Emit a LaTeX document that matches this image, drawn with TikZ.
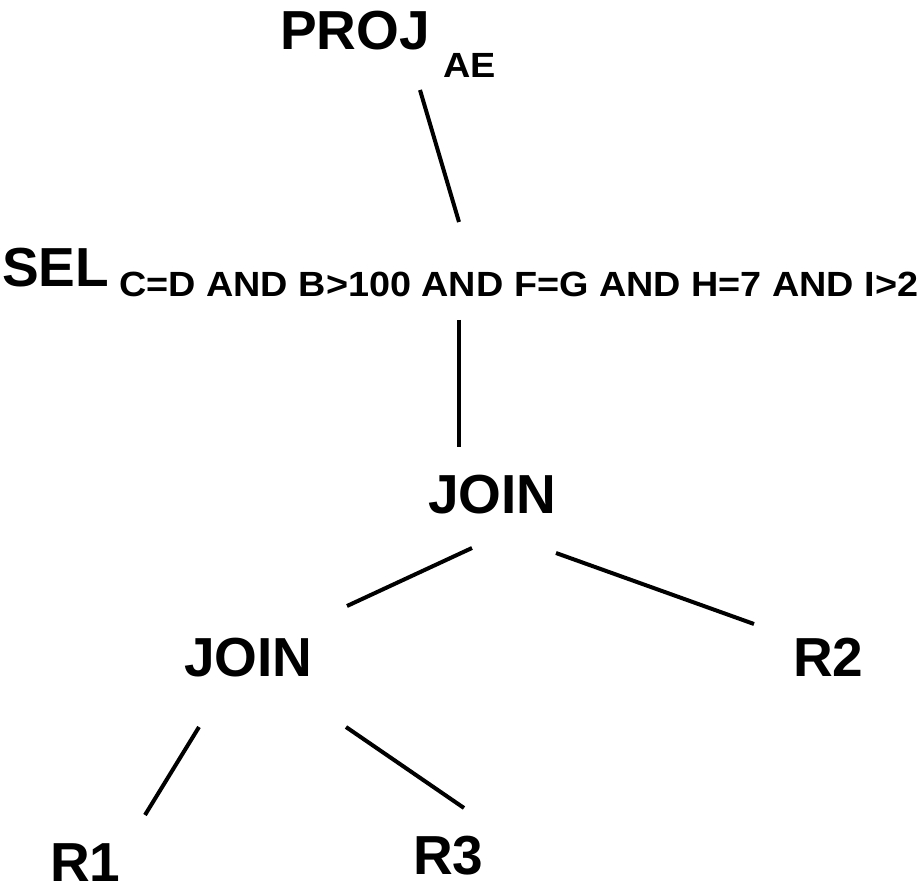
\documentclass[tikz,border=0pt]{standalone}
\usepackage{fontspec}
\setmainfont{Liberation Sans}
\newcommand{\widesub}[1]{\scalebox{1.08}[1]{#1}}
\tikzset{
  big/.style={inner sep=0pt, anchor=base west, font=\bfseries\fontsize{55}{60}\selectfont},
  sub/.style={inner sep=0pt, anchor=base west, font=\bfseries\fontsize{35}{40}\selectfont},
  edge/.style={line width=4pt}
}
\begin{document}
\begin{tikzpicture}[x=1pt,y=-1pt]
\useasboundingbox (0,0) rectangle (922,885);
\node[big] (proj) at (280,50) {PROJ};
\node[sub] (ae) at (443,78) {\widesub{AE}};
\node[big] (sel) at (2,287) {SEL};
\node[sub] (cond) at (119,297) {\widesub{C=D AND B>100 AND F=G AND H=7 AND I>2}};
\node[big] (join1) at (428,514) {JOIN};
\node[big] (join2) at (184,676) {JOIN};
\node[big] (r2) at (793,676) {R2};
\node[big] (r1) at (50,881) {R1};
\node[big] (r3) at (413,874) {R3};
\coordinate (p1) at (420,90);
\coordinate (s1) at (459,222);
\coordinate (s2) at (459,320);
\coordinate (j1) at (459,447);
\coordinate (j1a) at (472,548);
\coordinate (j2) at (347,606);
\coordinate (j1b) at (556,553);
\coordinate (r2t) at (754,624);
\coordinate (j2a) at (199,727);
\coordinate (r1t) at (145,815);
\coordinate (j2b) at (346,727);
\coordinate (r3t) at (464,808);
\draw[edge] (p1) -- (s1);
\draw[edge] (s2) -- (j1);
\draw[edge] (j1a) -- (j2);
\draw[edge] (j1b) -- (r2t);
\draw[edge] (j2a) -- (r1t);
\draw[edge] (j2b) -- (r3t);
\end{tikzpicture}
\end{document}
